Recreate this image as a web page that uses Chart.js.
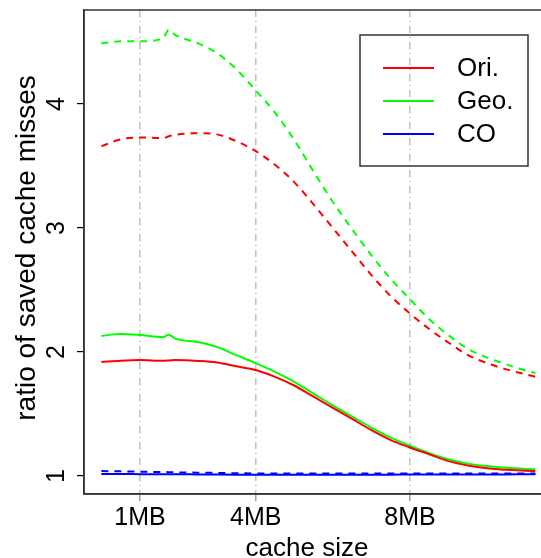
<!DOCTYPE html>
<html>
<head>
<meta charset="utf-8">
<script src="https://cdn.jsdelivr.net/npm/chart.js@4.4.0/dist/chart.umd.min.js"></script>
<style>
    html, body { margin: 0; padding: 0; background: #fff; overflow: hidden; }
    #wrap { width: 541px; height: 558px; overflow: hidden; }
    canvas { display: block; }
</style>
</head>
<body>
<div id="wrap"><canvas id="missChart" width="570" height="558"></canvas></div>
<script>
// cache size (MB) at each sample
const cacheSizes = [0, 0.5, 1, 1.6, 1.75, 1.9, 2.5, 3, 3.5, 4, 4.5, 5, 5.5, 6, 6.5, 7, 7.5, 8, 8.5, 9, 9.5, 10, 10.5, 11, 11.25];

// solid lines
const oriSolid = [1.92, 1.93, 1.935, 1.93, 1.932, 1.935, 1.928, 1.915, 1.885, 1.855, 1.80, 1.73, 1.64, 1.55, 1.46, 1.37, 1.29, 1.23, 1.175, 1.12, 1.085, 1.062, 1.05, 1.042, 1.04];
const geoSolid = [2.13, 2.145, 2.137, 2.12, 2.14, 2.11, 2.08, 2.04, 1.975, 1.91, 1.84, 1.76, 1.665, 1.57, 1.48, 1.39, 1.31, 1.245, 1.185, 1.135, 1.10, 1.08, 1.066, 1.057, 1.054];
const coSolid = [1.016, 1.016, 1.015, 1.014, 1.014, 1.014, 1.013, 1.012, 1.011, 1.01, 1.01, 1.01, 1.01, 1.01, 1.01, 1.011, 1.011, 1.012, 1.012, 1.012, 1.013, 1.013, 1.013, 1.014, 1.014];

// dashed lines
const oriDashed = [3.66, 3.715, 3.73, 3.725, 3.74, 3.75, 3.765, 3.755, 3.70, 3.62, 3.51, 3.37, 3.19, 3.00, 2.81, 2.62, 2.45, 2.31, 2.185, 2.075, 1.975, 1.91, 1.86, 1.82, 1.80];
const geoDashed = [4.49, 4.505, 4.505, 4.53, 4.60, 4.56, 4.49, 4.41, 4.28, 4.11, 3.93, 3.71, 3.455, 3.21, 2.99, 2.78, 2.59, 2.425, 2.265, 2.135, 2.025, 1.955, 1.90, 1.85, 1.83];
const coDashed = [1.04, 1.038, 1.035, 1.032, 1.031, 1.03, 1.027, 1.025, 1.022, 1.021, 1.02, 1.02, 1.02, 1.02, 1.02, 1.02, 1.02, 1.02, 1.02, 1.02, 1.02, 1.02, 1.02, 1.02, 1.02];

const xTickValues = [1, 4, 8];
const xTickLabels = ['1MB', '4MB', '8MB'];
const yTickValues = [1, 2, 3, 4];

const seriesNames = ['Ori.', 'Geo.', 'CO'];
const seriesColors = ['#ff0000', '#00ff00', '#0000ff'];

const FONT = '"Liberation Sans", Arial, sans-serif';

function toPoints(values) {
    return cacheSizes.map((x, i) => ({ x: x, y: values[i] }));
}

function makeLine(values, color, dashed) {
    return {
        data: toPoints(values),
        borderColor: color,
        borderWidth: 2,
        borderDash: dashed ? [7, 6] : [],
        pointRadius: 0,
        fill: false,
        cubicInterpolationMode: 'monotone'
    };
}

// box, rotated y labels, axis titles and legend
const framePlugin = {
    id: 'framePlugin',
    afterDraw(chart) {
        const ctx = chart.ctx;
        const a = chart.chartArea;
        const y = chart.scales.y;

        ctx.save();
        ctx.strokeStyle = '#333';
        ctx.lineWidth = 1.5;
        ctx.strokeRect(a.left, a.top, a.right - a.left, a.bottom - a.top);

        ctx.fillStyle = '#000';
        ctx.font = '25px ' + FONT;
        ctx.textAlign = 'center';
        ctx.textBaseline = 'alphabetic';
        yTickValues.forEach(v => {
            ctx.save();
            ctx.translate(64, y.getPixelForValue(v));
            ctx.rotate(-Math.PI / 2);
            ctx.fillText(String(v), 0, 0);
            ctx.restore();
        });

        ctx.font = '28px ' + FONT;
        ctx.save();
        ctx.translate(35, (a.top + a.bottom) / 2 - 4);
        ctx.rotate(-Math.PI / 2);
        ctx.fillText('ratio of saved cache misses', 0, 0);
        ctx.restore();

        ctx.font = '26px ' + FONT;
        ctx.fillText('cache size', 307, 556);

        // legend
        ctx.strokeStyle = '#333';
        ctx.lineWidth = 1.5;
        ctx.strokeRect(360, 35, 168, 131);
        ctx.font = '26px ' + FONT;
        ctx.textAlign = 'left';
        ctx.textBaseline = 'middle';
        seriesNames.forEach((name, i) => {
            const ly = 68 + i * 33;
            ctx.strokeStyle = seriesColors[i];
            ctx.lineWidth = 2;
            ctx.beginPath();
            ctx.moveTo(383, ly);
            ctx.lineTo(434, ly);
            ctx.stroke();
            ctx.fillStyle = '#000';
            ctx.fillText(name, 457, ly + 1);
        });
        ctx.restore();
    }
};

const chart = new Chart(document.getElementById('missChart').getContext('2d'), {
    type: 'line',
    data: {
        datasets: [
            makeLine(oriDashed, seriesColors[0], true),
            makeLine(geoDashed, seriesColors[1], true),
            makeLine(coDashed, seriesColors[2], true),
            makeLine(oriSolid, seriesColors[0], false),
            makeLine(geoSolid, seriesColors[1], false),
            makeLine(coSolid, seriesColors[2], false)
        ]
    },
    options: {
        responsive: false,
        animation: false,
        layout: { padding: { top: 10, right: 18, left: 0, bottom: 0 } },
        plugins: {
            legend: { display: false },
            tooltip: { enabled: false }
        },
        scales: {
            x: {
                type: 'linear',
                min: -0.45,
                max: 11.68,
                afterBuildTicks: scale => {
                    scale.ticks = xTickValues.map(v => ({ value: v }));
                },
                afterFit: scale => { scale.height = 64; },
                ticks: {
                    color: '#000',
                    font: { family: FONT, size: 25 },
                    padding: 2,
                    maxRotation: 0,
                    callback: v => xTickLabels[xTickValues.indexOf(v)]
                },
                grid: {
                    color: '#c0c0c0',
                    lineWidth: 1.5,
                    tickLength: 7,
                    tickColor: '#a0a0a0',
                    tickBorderDash: []
                },
                border: { color: '#333', width: 1.5, dash: [7, 4, 1, 4] }
            },
            y: {
                type: 'linear',
                min: 0.855,
                max: 4.758,
                afterBuildTicks: scale => {
                    scale.ticks = yTickValues.map(v => ({ value: v }));
                },
                afterFit: scale => { scale.width = 84; },
                ticks: { display: false },
                grid: {
                    drawOnChartArea: false,
                    tickLength: 7,
                    tickColor: '#000',
                    lineWidth: 1.2
                },
                border: { color: '#333', width: 1.5 }
            }
        }
    },
    plugins: [framePlugin]
});
</script>
</body>
</html>
